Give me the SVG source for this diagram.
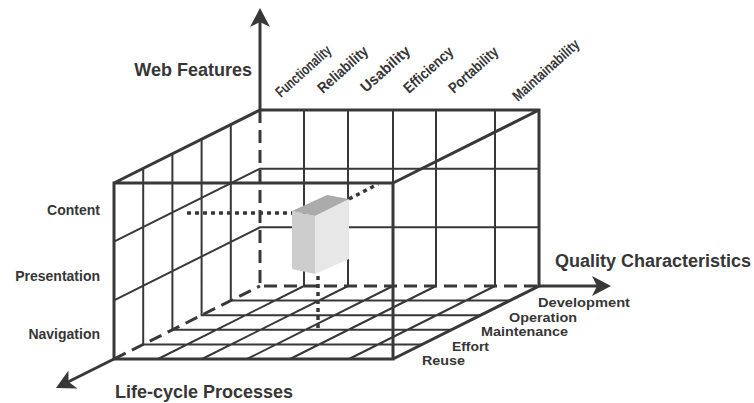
<svg xmlns="http://www.w3.org/2000/svg" width="754" height="403" viewBox="0 0 754 403">
  <style>
    text { font-family: "Liberation Sans", Arial, sans-serif; font-weight: bold; fill: #363636; }
    .axis-title { font-size: 18px; }
    .lbl { font-size: 14px; }
    .lc { font-size: 13px; }
    .rot { font-size: 15px; }
    .thick { fill: none; stroke: #383838; stroke-width: 3; stroke-linejoin: miter; }
    .thin { fill: none; stroke: #383838; stroke-width: 2; }
    .dash { fill: none; stroke: #383838; stroke-width: 3; stroke-dasharray: 13 7; }
    .dot { fill: none; stroke: #383838; stroke-width: 3.5; stroke-dasharray: 4 4; }
  </style>
  <defs>
    <marker id="arrow" markerUnits="userSpaceOnUse" markerWidth="40" markerHeight="40" refX="0" refY="0" viewBox="-20 -20 40 40" orient="auto" overflow="visible">
      <path d="M10,0 L-9,-10 L-4,0 L-9,10 Z" fill="#383838"/>
    </marker>
  </defs>
  <rect width="754" height="403" fill="#ffffff"/>

  <g id="connectors">
    <!-- thin grid -->
    <path class="thin" d="M143.2,168.4 V344.4 H422.2 M172.4,153.8 V329.8 H451.4 M201.6,139.2 V315.2 H480.6 M230.8,124.6 V300.6 H509.8
      M114,241.7 L260,168.7 H539 M114,300.3 L260,227.3 H539
      M304,110 V286 M348,110 V286 M393,110 V183 M436,110 V286 M495,110 V286
      M304,286 L158,359 M348,286 L202,359 M393,286 L247,359 M436,286 L290,359 M495,286 L349,359"/>
    <!-- hidden edges -->
    <path class="dash" d="M260,110 V286 H539 M114,359 L260,286"/>
    <!-- outer edges -->
    <path class="thick" d="M114,183 H393 V359 H114 Z M114,183 L260,110 H539 V286 L393,359 M393,183 L539,110"/>
    <!-- axes -->
    <line id="axis-web" class="thick" x1="260" y1="110" x2="260" y2="18" marker-end="url(#arrow)"/>
    <line id="axis-quality" class="thick" x1="539" y1="286" x2="601" y2="286" marker-end="url(#arrow)"/>
    <line id="axis-lifecycle" class="thick" x1="114" y1="359" x2="64.9" y2="383.5" marker-end="url(#arrow)"/>
    <!-- projection lines -->
    <path class="dot" d="M187,213 H292 M349,199 L378,184 M318,276 V330"/>
  </g>

  <g id="block">
    <polygon points="292,211 315,216 315,274 292,269" fill="#cdcdcd"/>
    <polygon points="315,216 349,199 349,259 315,274" fill="#e7e7e7"/>
    <polygon points="292,211 327,195 349,199 315,216" fill="#ababab"/>
  </g>

  <g id="axis-labels">
    <text class="axis-title" x="252" y="76" text-anchor="end">Web Features</text>
    <text class="axis-title" x="555" y="267">Quality Characteristics</text>
    <text class="axis-title" x="115" y="398">Life-cycle Processes</text>
  </g>

  <g id="web-features">
    <text class="lbl" x="100" y="215" text-anchor="end">Content</text>
    <text class="lbl" x="100" y="281" text-anchor="end">Presentation</text>
    <text class="lbl" x="100" y="339" text-anchor="end">Navigation</text>
  </g>

  <g id="quality-characteristics">
    <text class="rot" transform="translate(281,98) rotate(-42)" textLength="69" lengthAdjust="spacingAndGlyphs">Functionality</text>
    <text class="rot" transform="translate(323,94) rotate(-42)" textLength="62" lengthAdjust="spacingAndGlyphs">Reliability</text>
    <text class="rot" transform="translate(366,93) rotate(-42)" textLength="61" lengthAdjust="spacingAndGlyphs">Usability</text>
    <text class="rot" transform="translate(409,94) rotate(-42)" textLength="61" lengthAdjust="spacingAndGlyphs">Efficiency</text>
    <text class="rot" transform="translate(454,94) rotate(-42)" textLength="61" lengthAdjust="spacingAndGlyphs">Portability</text>
    <text class="rot" transform="translate(518,102) rotate(-42)" textLength="84" lengthAdjust="spacingAndGlyphs">Maintainability</text>
  </g>

  <g id="lifecycle-processes">
    <text class="lc" x="538" y="307" textLength="92" lengthAdjust="spacingAndGlyphs">Development</text>
    <text class="lc" x="509" y="322" textLength="68" lengthAdjust="spacingAndGlyphs">Operation</text>
    <text class="lc" x="481" y="336" textLength="87" lengthAdjust="spacingAndGlyphs">Maintenance</text>
    <text class="lc" x="452" y="351" textLength="37" lengthAdjust="spacingAndGlyphs">Effort</text>
    <text class="lc" x="422" y="365" textLength="43" lengthAdjust="spacingAndGlyphs">Reuse</text>
  </g>
</svg>
